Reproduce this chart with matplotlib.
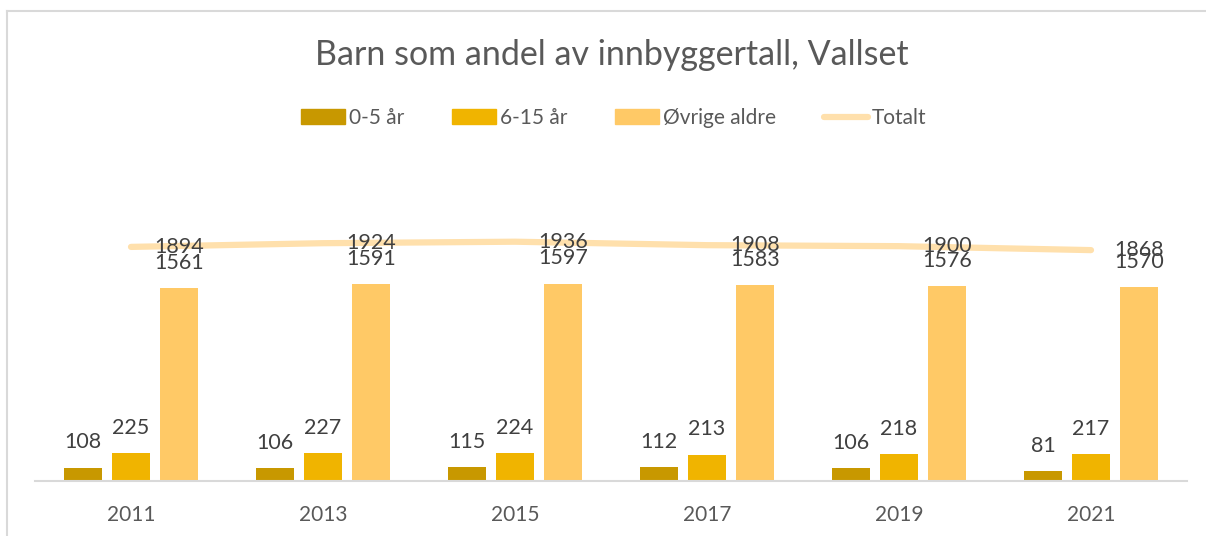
import numpy as np
import matplotlib
matplotlib.use('Agg')
import matplotlib.pyplot as plt
from matplotlib.patches import Patch
from matplotlib.lines import Line2D

plt.rcParams['font.family'] = ['Lato', 'DejaVu Sans']

years = ['2011', '2013', '2015', '2017', '2019', '2021']
age_0_5 = [108, 106, 115, 112, 106, 81]
age_6_15 = [225, 227, 224, 213, 218, 217]
other_ages = [1561, 1591, 1597, 1583, 1576, 1570]
total = [1894, 1924, 1936, 1908, 1900, 1868]

series_names = ['0-5 år', '6-15 år', 'Øvrige aldre', 'Totalt']
colors = ['#C89800', '#F0B400', '#FFC966', '#FFE0AC']
text_grey = '#595959'

W, H = 1206, 536
fig = plt.figure(figsize=(W / 100, H / 100), dpi=100)

# chart frame (cropped screenshot: only left and top visible)
fig.add_artist(Line2D([7 / W, 7 / W], [0, 1 - 11 / H], color='#D9D9D9', lw=1.5,
                      transform=fig.transFigure))
fig.add_artist(Line2D([7 / W, 1], [1 - 11 / H, 1 - 11 / H], color='#D9D9D9', lw=1.5,
                      transform=fig.transFigure))

ax = fig.add_axes([35 / W, (H - 481) / H, (1187 - 35) / W, (481 - 172) / H])

x = np.arange(len(years))
width = 0.2
offset = 0.25

for vals, dx, c in zip([age_0_5, age_6_15, other_ages], [-offset, 0, offset], colors):
    ax.bar(x + dx, vals, width, color=c, zorder=2)
    for xi, v in zip(x + dx, vals):
        ax.annotate(str(v), (xi, v), xytext=(0, 11), textcoords='offset points',
                    ha='center', va='bottom', fontsize=15.5, color='#404040')

ax.plot(x, total, color=colors[3], lw=4.5, solid_capstyle='round', zorder=3)
for xi, v in zip(x + offset, total):
    ax.text(xi, v, str(v), ha='center', va='center', fontsize=15.5, color='#404040', zorder=4)

ax.set_xlim(-0.5, len(years) - 0.5)
ax.set_ylim(0, 2500)
ax.set_xticks(x)
ax.set_xticklabels(years, fontsize=15, color=text_grey)
ax.tick_params(axis='x', length=0, pad=17)
ax.set_yticks([])
for s in ['top', 'left', 'right']:
    ax.spines[s].set_visible(False)
ax.spines['bottom'].set_color('#D9D9D9')
ax.spines['bottom'].set_linewidth(1.5)

fig.text(612 / W, 1 - 55 / H, 'Barn som andel av innbyggertall, Vallset',
         ha='center', va='center', fontsize=24.5, color=text_grey)

handles = [Patch(color=c) for c in colors[:3]]
handles.append(Line2D([0], [0], color=colors[3], lw=4.5, solid_capstyle='round'))
fig.legend(handles, series_names, loc='center', bbox_to_anchor=(614 / W, 1 - 118 / H),
           ncol=4, frameon=False, fontsize=15, labelcolor=text_grey,
           handlelength=2.1, handleheight=0.75, handletextpad=0.2, columnspacing=2.3)

fig.savefig('out.png', dpi=100, facecolor='white')
